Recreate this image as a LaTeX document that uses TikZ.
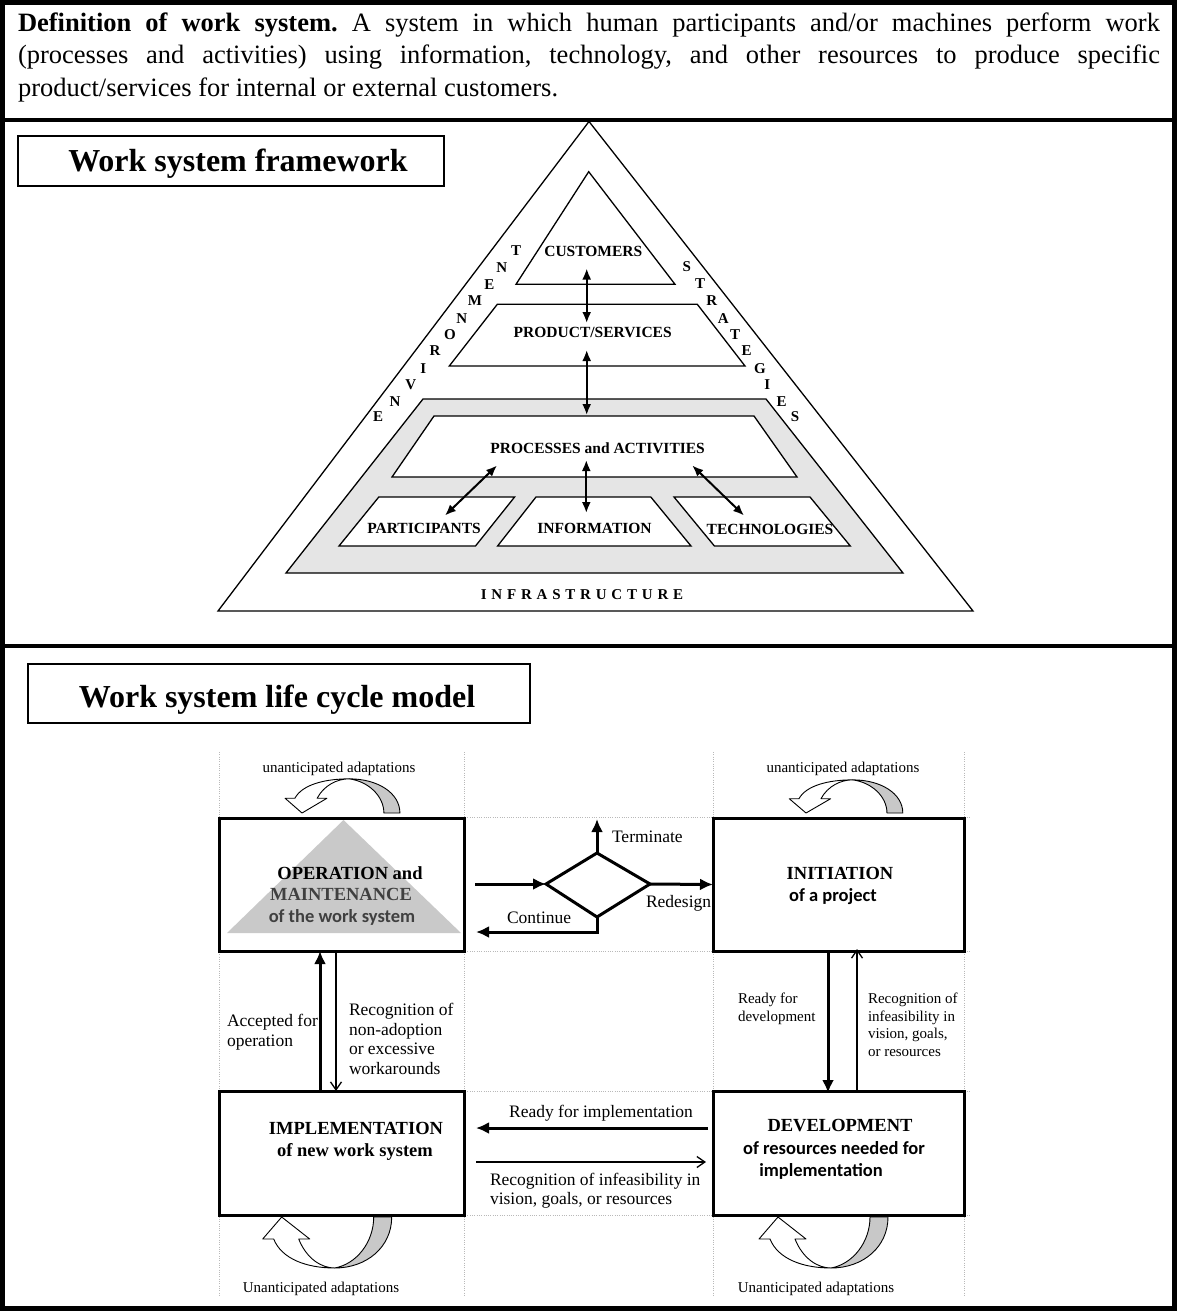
\documentclass[tikz,border=0pt]{standalone}
\usepackage{fontspec}
\setmainfont{Liberation Serif}
\newfontfamily\carlito{Carlito}
\usetikzlibrary{arrows.meta}
\newcommand\uturnarrow[4]{%
 \begin{scope}[shift={(#1,#2)}, xscale=#3, yscale=#4, line width=0.9pt, line join=round]
  \filldraw[fill=gray!43] (53,51) .. controls (85,51) and (110,30) .. (110,0) -- (92,0) .. controls (92,25) and (75,47) .. (53,51) -- cycle;
  \filldraw[fill=white] (0,0) -- (28,22) -- (17,22) .. controls (25,42) and (40,51) .. (53,51) .. controls (25,51) and (0,42) .. (-8,22) -- (-19,22) -- cycle;
 \end{scope}}
\begin{document}
\begin{tikzpicture}[x=1pt,y=-1pt,
  every node/.style={inner sep=0pt,outer sep=0pt},
  frameline/.style={line width=4.5pt},
  ttlbox/.style={draw, line width=1.2pt},
  ttl/.style={font=\fontsize{32}{36}\selectfont\bfseries},
  pyr/.style={draw, line width=1.3pt, line join=miter},
  plab/.style={font=\fontsize{15.5}{16}\selectfont\bfseries},
  lett/.style={font=\fontsize{15}{16}\selectfont\bfseries},
  dbl/.style={line width=2pt, {Latex[length=11pt,width=9pt]}-{Latex[length=11pt,width=9pt]}},
  lcbox/.style={draw, line width=3pt},
  tharr/.style={line width=3pt, -{Latex[length=13pt,width=12pt]}},
  tnarr/.style={line width=1.3pt, -{Straight Barb[length=8pt,width=11pt]}},
  gridl/.style={gray!55, line width=0.7pt, dash pattern=on 1pt off 1.3pt},
  lct/.style={font=\fontsize{17.5}{19}\selectfont},
  lcs/.style={font=\fontsize{15}{17}\selectfont},
  lcb/.style={font=\fontsize{18.5}{20}\selectfont\bfseries},
  lcc/.style={font=\fontsize{18.5}{20}\selectfont\carlito\bfseries}
]
\useasboundingbox (0,0) rectangle (1177,1311);
\fill[white] (0,0) rectangle (1177,1311);

% ---------- frame ----------
\draw[frameline] (2.5,2.5) rectangle (1174.5,1308.5);
\draw[line width=4pt] (2.5,120) -- (1174.5,120);
\draw[line width=4pt] (2.5,646) -- (1174.5,646);

% ---------- definition ----------
\node[anchor=north west, text width=1142pt, align=justify,
      font=\fontsize{26.5}{32.5}\selectfont]
  (defn) at (18,12.5)
  {\frenchspacing\tolerance=9999 \hyphenpenalty=10000 \textbf{Definition of work system.} A system in which human participants and/or machines perform work\linebreak
   (processes and activities) using information, technology, and other resources to produce specific\linebreak
   product/services for internal or external customers.};

% ---------- framework ----------
\node[ttlbox, anchor=north west, minimum width=426pt, minimum height=50pt] (fwbox) at (18,136) {};
\node[ttl, anchor=base] (fwtxt) at (238,171) {Work system framework};

\draw[pyr] (589,121.5) -- (973,611) -- (218,611) -- cycle;
\draw[pyr] (588.7,171.7) -- (675,284.3) -- (516,284.3) -- cycle;
\draw[pyr] (497.3,304.3) -- (697.3,304.3) -- (745,366) -- (449.3,366) -- cycle;
\filldraw[pyr, fill=gray!20] (423,399) -- (766,399) -- (903,573) -- (286,573) -- cycle;
\filldraw[pyr, fill=white] (434,416) -- (754,416) -- (797,477) -- (392,477) -- cycle;
\filldraw[pyr, fill=white] (378.8,497) -- (514.6,497) -- (475.5,546) -- (339,546) -- cycle;
\filldraw[pyr, fill=white] (536,497) -- (650.8,497) -- (691,546) -- (497.6,546) -- cycle;
\filldraw[pyr, fill=white] (674,497) -- (810,497) -- (850.3,546) -- (714.4,546) -- cycle;

\node[plab] (cust) at (593.3,251) {CUSTOMERS};
\node[plab] (prod) at (592.7,332.7) {PRODUCT/SERVICES};
\node[plab] (proc) at (597.6,448.3) {PROCESSES and ACTIVITIES};
\node[plab] (part) at (424,528) {PARTICIPANTS};
\node[plab] (info) at (594.5,528) {INFORMATION};
\node[plab] (tech) at (770,529) {TECHNOLOGIES};
\node[lett] (infra) at (582,595) {\addfontfeatures{LetterSpace=32}INFRASTRUCTURE};

% ENVIRONMENT letters
\node[lett] (e1) at (378,416.7) {E};
\node[lett] (e2) at (395,401.7) {N};
\node[lett] (e3) at (410.7,385) {V};
\node[lett] (e4) at (423.3,368.3) {I};
\node[lett] (e5) at (435,350.5) {R};
\node[lett] (e6) at (450,335) {O};
\node[lett] (e7) at (461.7,318.3) {N};
\node[lett] (e8) at (475,301) {M};
\node[lett] (e9) at (489.3,284.3) {E};
\node[lett] (e10) at (501.7,267.7) {N};
\node[lett] (e11) at (516,251) {T};
% STRATEGIES letters
\node[lett] (s1) at (686.7,266.7) {S};
\node[lett] (s2) at (700,284) {T};
\node[lett] (s3) at (711.7,301) {R};
\node[lett] (s4) at (723.3,318.3) {A};
\node[lett] (s5) at (735,334.3) {T};
\node[lett] (s6) at (746.7,351) {E};
\node[lett] (s7) at (760,368.3) {G};
\node[lett] (s8) at (767.3,384.3) {I};
\node[lett] (s9) at (781.7,401.7) {E};
\node[lett] (s10) at (795,416.7) {S};

\coordinate (a1) at (586.7,268.5);
\coordinate (a2) at (586.7,323);
\coordinate (a3) at (586.7,350);
\coordinate (a4) at (586.7,415);
\coordinate (a5) at (586.3,460);
\coordinate (a6) at (586.3,513);
\coordinate (a7) at (497,465.5);
\coordinate (a8) at (445,515.5);
\coordinate (a9) at (692.3,465.5);
\coordinate (a10) at (744,515.5);
\draw[dbl] (a1) -- (a2);
\draw[dbl] (a3) -- (a4);
\draw[dbl] (a5) -- (a6);
\draw[dbl] (a7) -- (a8);
\draw[dbl] (a9) -- (a10);

% ---------- life cycle ----------
\node[ttlbox, anchor=north west, minimum width=502pt, minimum height=59pt] (lcttl) at (28,664) {};
\node[ttl, anchor=base] (lctxt) at (277,707) {Work system life cycle model};

% grid
\foreach \gx in {219,464,713,964} \draw[gridl] (\gx,752) -- (\gx,1295);
\foreach \gy in {817,951,1091,1215} \draw[gridl] (219,\gy) -- (970,\gy);

% triangle in operation box
\fill[gray!42] (343.5,820) -- (461,933) -- (227,933) -- cycle;

\node[lcbox, minimum width=245pt, minimum height=133pt] (op) at (341.5,884.5) {};
\node[lcbox, minimum width=251pt, minimum height=133pt] (init) at (838.5,884.5) {};
\node[lcbox, minimum width=245pt, minimum height=124pt] (impl) at (341.5,1153) {};
\node[lcbox, minimum width=251pt, minimum height=124pt] (dev) at (838.5,1153) {};

\node[lcb, anchor=base] (op1) at (350,879) {OPERATION and};
\node[lcb, anchor=base, text=black!75] (op2) at (341,900) {MAINTENANCE};
\node[lcc, anchor=base, text=black!75] (op3) at (342,922) {of the work system};
\node[lcb, anchor=base] (in1) at (840,879) {INITIATION};
\node[lcc, anchor=base] (in2) at (833,901) {of a project};
\node[lcb, anchor=base] (im1) at (356,1134) {IMPLEMENTATION};
\node[lcb, anchor=base] (im2) at (355,1156) {of new work system};
\node[lcb, anchor=base] (dv1) at (840,1131) {DEVELOPMENT};
\node[lcc, anchor=base] (dv2) at (834,1154) {of resources needed for};
\node[lcc, anchor=base] (dv3) at (821,1176) {implementation};

% curved arrows
\uturnarrow{302}{813}{0.89}{-0.67}
\uturnarrow{806}{813}{0.88}{-0.65}
\uturnarrow{281.7}{1217}{1}{1}
\uturnarrow{778}{1217}{1}{1}
\node[lcs, anchor=base] (ua1) at (339,772) {unanticipated adaptations};
\node[lcs, anchor=base] (ua2) at (843,772) {unanticipated adaptations};
\node[lcs, anchor=base] (ua3) at (321,1292) {Unanticipated adaptations};
\node[lcs, anchor=base] (ua4) at (816,1292) {Unanticipated adaptations};

% decision diamond
\coordinate (dw) at (546,884);
\coordinate (dn) at (597,853);
\coordinate (de) at (650,884);
\coordinate (ds) at (597,917);
\draw[line width=3pt, line join=miter] (dw) -- (dn) -- (de) -- (ds) -- cycle;
\coordinate (opout) at (475,884);
\coordinate (term) at (597,819);
\coordinate (cont) at (476,932);
\draw[tharr] (opout) -- (dw);
\draw[tharr] (dn) -- (term);
\draw[tharr] (de) -- (init.west);
\draw[tharr] (ds) |- (cont);
\node[lct, anchor=base west] (tterm) at (612,842) {Terminate};
\node[lct, anchor=base west] (tred) at (646,907) {Redesign};
\node[lct, anchor=base west] (tcont) at (507,923) {Continue};

% vertical connectors
\coordinate (accx) at (320,0);
\coordinate (recx) at (336,0);
\coordinate (rdx) at (828,0);
\coordinate (rix) at (857,0);
\draw[tharr] (impl.north -| accx) -- (op.south -| accx);
\draw[tnarr] (op.south -| recx) -- (impl.north -| recx);
\draw[tharr] (init.south -| rdx) -- ([yshift=-2pt]dev.north -| rdx);
\draw[tnarr] (dev.north -| rix) -- ([yshift=2pt]init.south -| rix);

\node[lct, anchor=base west] (acc1) at (227,1026) {Accepted for};
\node[lct, anchor=base west] (acc2) at (227,1046) {operation};
\node[lct, anchor=base west] (rn1) at (349,1015) {Recognition of};
\node[lct, anchor=base west] (rn2) at (349,1035) {non-adoption};
\node[lct, anchor=base west] (rn3) at (349,1054) {or excessive};
\node[lct, anchor=base west] (rn4) at (349,1074) {workarounds};
\node[lcs, anchor=base west] (rd1) at (738,1003) {Ready for};
\node[lcs, anchor=base west] (rd2) at (738,1021) {development};
\node[lcs, anchor=base west] (ri1) at (868,1003) {Recognition of};
\node[lcs, anchor=base west] (ri2) at (868,1021) {infeasibility in};
\node[lcs, anchor=base west] (ri3) at (868,1038) {vision, goals,};
\node[lcs, anchor=base west] (ri4) at (868,1056) {or resources};

% horizontal connectors
\coordinate (rimy) at (0,1128);
\coordinate (rify) at (0,1162);
\draw[tharr] ([xshift=-5pt]dev.west |- rimy) -- ([xshift=12pt]impl.east |- rimy);
\draw[tnarr] ([xshift=12pt]impl.east |- rify) -- ([xshift=-7pt]dev.west |- rify);
\node[lct, anchor=base] (rim) at (601,1117) {Ready for implementation};
\node[lct, anchor=base west] (rif1) at (490,1185) {Recognition of infeasibility in};
\node[lct, anchor=base west] (rif2) at (490,1204) {vision, goals, or resources};
\end{tikzpicture}
\end{document}
